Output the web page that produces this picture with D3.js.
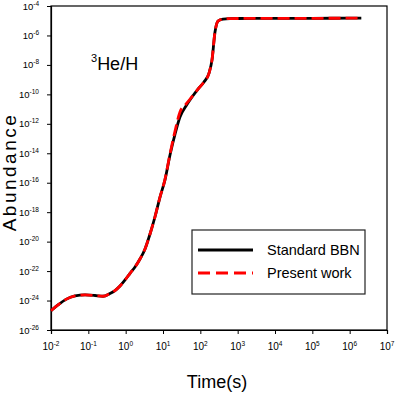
<!DOCTYPE html>
<html>
<head>
<meta charset="utf-8">
<script src="https://cdn.jsdelivr.net/npm/d3@7"></script>
<style>
  html, body { margin: 0; padding: 0; background: #fff; }
  svg { display: block; font-family: "Liberation Sans", Arial, sans-serif; }
</style>
</head>
<body>
<svg id="chart" width="395" height="395"></svg>
<script>
// ---- data ----
const times = [0.01, 0.0154, 0.0252, 0.044, 0.0815, 0.151, 0.247, 0.38, 0.518, 0.705, 0.96, 1.31, 1.78, 2.42, 3.30, 4.49, 6.11, 8.32, 11.3, 15.4, 21.0, 28.5, 41.3, 59.8, 86.6, 125, 171, 205, 247, 297, 405, 623, 1000, 1e4, 1e5, 1e6, 2.05e6];
const standardBBN = [2.04e-25, 5.0e-25, 1.2e-24, 2.04e-24, 2.4e-24, 2.2e-24, 1.95e-24, 3.0e-24, 4.8e-24, 9.8e-24, 2.5e-23, 7.1e-23, 1.9e-22, 6.6e-22, 3.2e-21, 3.3e-20, 4.9e-19, 1.07e-17, 1.55e-16, 7.6e-15, 2.0e-13, 2.9e-12, 1.6e-11, 6.6e-11, 2.3e-10, 6.9e-10, 2.8e-9, 2.1e-8, 1.7e-6, 9.5e-6, 1.3e-5, 1.4e-5, 1.42e-5, 1.44e-5, 1.46e-5, 1.48e-5, 1.48e-5];
const presentWork = [2.04e-25, 5.0e-25, 1.2e-24, 2.04e-24, 2.4e-24, 2.2e-24, 1.95e-24, 3.0e-24, 4.8e-24, 9.8e-24, 2.5e-23, 7.1e-23, 1.9e-22, 6.6e-22, 3.2e-21, 3.3e-20, 4.9e-19, 1.07e-17, 1.7e-16, 9.0e-15, 3.2e-13, 6.3e-12, 2.2e-11, 6.9e-11, 2.3e-10, 6.9e-10, 2.8e-9, 2.1e-8, 1.7e-6, 9.5e-6, 1.3e-5, 1.4e-5, 1.42e-5, 1.44e-5, 1.46e-5, 1.48e-5, 1.48e-5];
const xTickExps = [-2, -1, 0, 1, 2, 3, 4, 5, 6, 7];
const yTickExps = [-4, -6, -8, -10, -12, -14, -16, -18, -20, -22, -24, -26];
const seriesNames = ["Standard BBN", "Present work"];

// ---- layout ----
const svg = d3.select("#chart");
const mLeft = 51, mRight = 387, mTop = 6, mBottom = 330;

const x = d3.scaleLog().domain([1e-2, 1e7]).range([mLeft, mRight]);
const y = d3.scaleLog().domain([1e-26, 1e-4]).range([mBottom, mTop]);

// frame
svg.append("rect")
  .attr("x", mLeft).attr("y", mTop)
  .attr("width", mRight - mLeft).attr("height", mBottom - mTop)
  .attr("fill", "none").attr("stroke", "#000").attr("stroke-width", 1.2);

// axes (ticks only, labels drawn with superscripts)
const xAxis = d3.axisBottom(x)
  .tickValues(xTickExps.map(e => Math.pow(10, e)))
  .tickSize(4).tickFormat("");
const gx = svg.append("g").attr("transform", `translate(0,${mBottom})`).call(xAxis);
gx.select(".domain").attr("stroke", "#000").attr("stroke-width", 1.2);
gx.selectAll(".tick line").attr("stroke", "#000").attr("stroke-width", 1);

const yAxis = d3.axisLeft(y)
  .tickValues(yTickExps.map(e => Math.pow(10, e)))
  .tickSize(4).tickFormat("");
const gy = svg.append("g").attr("transform", `translate(${mLeft},0)`).call(yAxis);
gy.select(".domain").attr("stroke", "#000").attr("stroke-width", 1.2);
gy.selectAll(".tick line").attr("stroke", "#000").attr("stroke-width", 1);

// x tick labels
xTickExps.forEach(e => {
  const t = svg.append("text")
    .attr("x", x(Math.pow(10, e))).attr("y", mBottom + 20)
    .attr("text-anchor", "middle")
    .attr("font-size", 10).attr("fill", "#000");
  t.append("tspan").text("10");
  t.append("tspan").attr("dy", -4).attr("font-size", 6.5).text(String(e));
});

// y tick labels
yTickExps.forEach(e => {
  const t = svg.append("text")
    .attr("x", mLeft - 12).attr("y", y(Math.pow(10, e)) + 3.5)
    .attr("text-anchor", "end")
    .attr("font-size", 9.5).attr("fill", "#000");
  t.append("tspan").text("10");
  t.append("tspan").attr("dy", -4).attr("font-size", 6.5).text(String(e));
});

// axis titles
svg.append("text")
  .attr("x", 217).attr("y", 388)
  .attr("text-anchor", "middle")
  .attr("font-size", 18).attr("fill", "#000")
  .text("Time(s)");

svg.append("text")
  .attr("transform", "translate(16,172) rotate(-90)")
  .attr("text-anchor", "middle")
  .attr("font-size", 19).attr("fill", "#000")
  .attr("letter-spacing", 2.5)
  .text("Abundance");

// species label
const lab = svg.append("text")
  .attr("x", 91).attr("y", 70)
  .attr("font-size", 18).attr("fill", "#000");
lab.append("tspan").attr("font-size", 11).attr("dy", -8).text("3");
lab.append("tspan").attr("dy", 8).text("He/H");

// curves
const line = d3.line()
  .x(d => x(d[0]))
  .y(d => y(d[1]))
  .curve(d3.curveMonotoneX);

svg.append("path")
  .datum(times.map((t, i) => [t, standardBBN[i]]))
  .attr("d", line)
  .attr("fill", "none").attr("stroke", "#000").attr("stroke-width", 2.8);

svg.append("path")
  .datum(times.map((t, i) => [t, presentWork[i]]))
  .attr("d", line)
  .attr("fill", "none").attr("stroke", "#ff0000").attr("stroke-width", 2.8)
  .attr("stroke-dasharray", "12,5");

// legend
const lg = svg.append("g");
lg.append("rect")
  .attr("x", 192).attr("y", 230).attr("width", 173).attr("height", 64)
  .attr("fill", "#fff").attr("stroke", "#222").attr("stroke-width", 1.2);
const legendStyles = [
  { color: "#000", dash: null, yy: 250 },
  { color: "#ff0000", dash: "12,6", yy: 273 }
];
seriesNames.forEach((name, i) => {
  const s = legendStyles[i];
  lg.append("line")
    .attr("x1", 198).attr("x2", 253).attr("y1", s.yy).attr("y2", s.yy)
    .attr("stroke", s.color).attr("stroke-width", 2.8)
    .attr("stroke-dasharray", s.dash);
  lg.append("text")
    .attr("x", 267).attr("y", s.yy + 5)
    .attr("font-size", 14.5).attr("fill", "#000")
    .text(name);
});
</script>
</body>
</html>
